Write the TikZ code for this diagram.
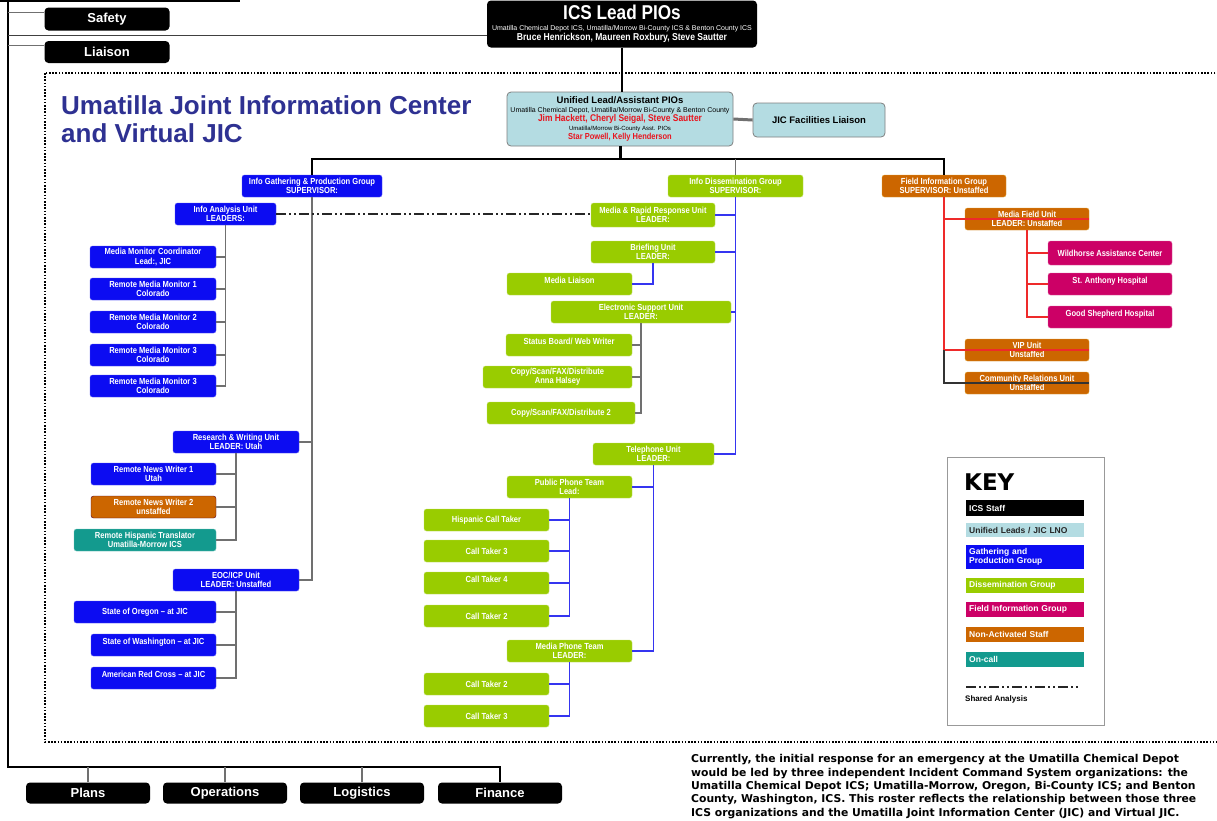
\documentclass[tikz,border=0pt]{standalone}
\usepackage{fontspec}
\setmainfont{Liberation Sans}
\newfontfamily\narrowsans[FakeStretch=0.86]{Liberation Sans}
\newfontfamily\heavysans{DejaVu Sans}
\usetikzlibrary{positioning}

\definecolor{gathblue}{HTML}{0C0CF2}
\definecolor{dissgreen}{HTML}{99CC00}
\definecolor{fieldmag}{HTML}{CC0066}
\definecolor{offorange}{HTML}{CC6600}
\definecolor{offedge}{HTML}{E0A030}
\definecolor{oncall}{HTML}{139A8E}
\definecolor{unilb}{HTML}{B4DCE2}
\definecolor{jicnavy}{HTML}{2E3192}
\definecolor{jicred}{HTML}{E8141E}
\definecolor{linegray}{HTML}{707070}
\definecolor{lineblue}{HTML}{3535F0}
\definecolor{linered}{HTML}{EE2A2A}

\newcommand{\boxfont}{\narrowsans\bfseries\fontsize{8.8}{9.2}\selectfont}
\newcommand{\keyfont}{\bfseries\fontsize{8.5}{9.5}\selectfont}

\begin{document}
\begin{tikzpicture}[
  x=1pt, y=-1pt,
  every node/.style={font=\boxfont, text=white},
  box/.style={
    rounded corners=2.5pt, align=center, inner sep=0pt,
    minimum width=125pt, minimum height=22pt
  },
  icsbox/.style={box, fill=black, rounded corners=4pt},
  unibox/.style={box, fill=unilb, draw=gray, thick, text=black},
  gathbox/.style={box, fill=gathblue, draw=gathblue!70!white},
  dissbox/.style={box, fill=dissgreen, draw=dissgreen!60!white},
  fieldbox/.style={box, fill=fieldmag, draw=fieldmag!60!white},
  offbox/.style={box, fill=offorange, draw=offedge},
  callbox/.style={box, fill=oncall, draw=oncall!60!white},
  upper/.style={text depth=8pt},
  keybox/.style={
    anchor=west, align=left, minimum width=118pt, text width=112pt,
    inner xsep=3pt, inner ysep=0pt, font=\keyfont
  },
  kline/.style={draw=black, line width=1.3pt},
  gline/.style={draw=linegray, line width=1.3pt},
  bline/.style={draw=lineblue, line width=1.3pt},
  rline/.style={draw=linered, line width=1.3pt},
  shared/.style={draw=black!85, line width=1.4pt,
    dash pattern=on 10pt off 3pt on 2pt off 3pt on 2pt off 3pt}
]
\fill[white] (0,0) rectangle (1217,820);
\useasboundingbox (0,0) rectangle (1217,820);

% ICS staff
\node[icsbox, minimum width=270, minimum height=47,
  font=\narrowsans\bfseries\fontsize{10}{10}\selectfont] (ics) at (622,24)
  {{\fontsize{20}{20}\selectfont ICS Lead PIOs}\\[0.5pt]
   {\normalfont\fontsize{7}{7}\selectfont Umatilla Chemical Depot ICS, Umatilla/Morrow Bi-County ICS \& Benton County ICS}\\
   Bruce Henrickson, Maureen Roxbury, Steve Sautter};
\node[icsbox, minimum height=23, font=\bfseries\fontsize{13}{14}\selectfont] (safety) at (107,19) {Safety};
\node[icsbox, font=\bfseries\fontsize{13}{14}\selectfont] (liaison) at (107,52) {Liaison};
\node[icsbox, minimum width=124, minimum height=21, font=\bfseries\fontsize{13}{14}\selectfont] (plans) at (88,793) {Plans};
\node[icsbox, minimum width=124, minimum height=21, font=\bfseries\fontsize{13}{14}\selectfont] (ops) at (225,793) {Operations};
\node[icsbox, minimum width=124, minimum height=21, font=\bfseries\fontsize{13}{14}\selectfont] (logi) at (362,793) {Logistics};
\node[icsbox, minimum width=124, minimum height=21, font=\bfseries\fontsize{13}{14}\selectfont] (fin) at (500,793) {Finance};

% JIC frame and title
\draw[line width=1.8pt, dash pattern=on 1.6pt off 1.6pt] (45,73) rectangle (1230,742);
\node[anchor=west, align=left, text=jicnavy, inner sep=0pt,
  font=\bfseries\fontsize{26}{28.5}\selectfont] (jictitle) at (61,119)
  {Umatilla Joint Information Center\\and Virtual JIC};

% Unified leads
\node[unibox, minimum width=226, minimum height=54, rounded corners=4pt,
  font=\fontsize{7}{8.8}\selectfont] (uni) at (620,119)
  {{\bfseries\fontsize{9.5}{9.5}\selectfont Unified Lead/Assistant PIOs}\\
   {\fontsize{7}{7}\selectfont Umatilla Chemical Depot, Umatilla/Morrow Bi-County \& Benton County}\\
   {\color{jicred}\narrowsans\bfseries\fontsize{9.8}{9.8}\selectfont Jim Hackett, Cheryl Seigal, Steve Sautter}\\
   {\fontsize{6}{6}\selectfont Umatilla/Morrow Bi-County Asst. PIOs}\\
   {\color{jicred}\narrowsans\bfseries\fontsize{8.7}{8.7}\selectfont Star Powell, Kelly Henderson}};
\node[unibox, minimum width=132, minimum height=34, rounded corners=4pt,
  font=\bfseries\fontsize{9.5}{10}\selectfont] (jicfac) at (819,120) {JIC Facilities Liaison};

% Gathering & production group
\node[gathbox, minimum width=140] (gath) at (312,186) {Info Gathering \& Production Group\\SUPERVISOR:};
\node[gathbox, minimum width=101] (ia) at (225.5,214) {Info Analysis Unit\\LEADERS:};
\node[gathbox, minimum width=126] (mmc) at (153,257) {Media Monitor Coordinator\\Lead:, JIC};
\node[gathbox, minimum width=126] (rmm1) at (153,289) {Remote Media Monitor 1\\Colorado};
\node[gathbox, minimum width=126] (rmm2) at (153,322) {Remote Media Monitor 2\\Colorado};
\node[gathbox, minimum width=126] (rmm3) at (153,355) {Remote Media Monitor 3\\Colorado};
\node[gathbox, minimum width=126] (rmm3b) at (153,386) {Remote Media Monitor 3\\Colorado};
\node[gathbox, minimum width=126] (rw) at (236,442) {Research \& Writing Unit\\LEADER: Utah};
\node[gathbox] (rnw1) at (153.5,474) {Remote News Writer 1\\Utah};
\node[offbox, draw=black!60!fieldmag] (rnw2) at (153.5,507) {Remote News Writer 2\\unstaffed};
\node[callbox, minimum width=142] (rht) at (145,540) {Remote Hispanic Translator\\Umatilla-Morrow ICS};
\node[gathbox, minimum width=126] (eoc) at (236,580) {EOC/ICP Unit\\LEADER: Unstaffed};
\node[gathbox, minimum width=142] (oregon) at (145,612) {State of Oregon – at JIC};
\node[gathbox, upper] (wash) at (153.5,645) {State of Washington – at JIC};
\node[gathbox, upper] (redcross) at (153.5,678) {American Red Cross – at JIC};

% Dissemination group
\node[dissbox, minimum width=135] (diss) at (735.5,186) {Info Dissemination Group\\SUPERVISOR:};
\node[dissbox, minimum width=124, minimum height=24] (mrr) at (653,215) {Media \& Rapid Response Unit\\LEADER:};
\node[dissbox, minimum width=124] (brief) at (653,252) {Briefing Unit\\LEADER:};
\node[dissbox, upper] (ml) at (569.5,284) {Media Liaison};
\node[dissbox, minimum width=180] (esu) at (641,312) {Electronic Support Unit\\LEADER:};
\node[dissbox, upper, minimum width=126] (sb) at (569,345) {Status Board/ Web Writer};
\node[dissbox, minimum width=149] (csf1) at (557.5,377) {Copy/Scan/FAX/Distribute\\Anna Halsey};
\node[dissbox, minimum width=148] (csf2) at (561,413) {Copy/Scan/FAX/Distribute 2};
\node[dissbox, minimum width=121] (tel) at (653.5,454) {Telephone Unit\\LEADER:};
\node[dissbox] (ppt) at (569.5,487) {Public Phone Team\\Lead:};
\node[dissbox] (hct) at (486.5,520) {Hispanic Call Taker};
\node[dissbox] (ct3) at (486.5,551) {Call Taker 3};
\node[dissbox, upper] (ct4) at (486.5,583) {Call Taker 4};
\node[dissbox] (ct2) at (486.5,616) {Call Taker 2};
\node[dissbox] (mpt) at (569.5,651) {Media Phone Team\\LEADER:};
\node[dissbox] (ct2b) at (486.5,684) {Call Taker 2};
\node[dissbox] (ct3b) at (486.5,716) {Call Taker 3};

% Field information group
\node[offbox, minimum width=124] (field) at (944,186) {Field Information Group\\SUPERVISOR: Unstaffed};
\node[offbox, minimum width=124] (mfu) at (1027,219) {Media Field Unit\\LEADER: Unstaffed};
\node[fieldbox, minimum width=124, minimum height=24] (wild) at (1110,253) {Wildhorse Assistance Center};
\node[fieldbox, upper, minimum width=124] (stanth) at (1110,284) {St. Anthony Hospital};
\node[fieldbox, upper, minimum width=124] (goods) at (1110,317) {Good Shepherd Hospital};
\node[offbox, minimum width=124] (vip) at (1027,350) {VIP Unit\\Unstaffed};
\node[offbox, minimum width=124] (comm) at (1027,383) {Community Relations Unit\\Unstaffed};

% Key
\node[draw=gray!80, line width=1pt, minimum width=157, minimum height=268, inner sep=0pt] (keyframe) at (1025.5,591) {};
\node[anchor=west, text=black, inner sep=0pt, font=\heavysans\bfseries\fontsize{23}{23}\selectfont] (keytitle) at (964,482) {KEY};
\node[keybox, fill=black, minimum height=16] (kics) at (966,508) {ICS Staff};
\node[keybox, fill=unilb, text=black!85, minimum height=14] (kuni) at (966,530) {Unified Leads / JIC LNO};
\node[keybox, fill=gathblue, minimum height=24] (kgath) at (966,557) {Gathering and\\Production Group};
\node[keybox, fill=dissgreen, minimum height=15] (kdiss) at (966,585.5) {Dissemination Group};
\node[keybox, fill=fieldmag, minimum height=15] (kfield) at (966,609.5) {Field Information Group};
\node[keybox, fill=offorange, minimum height=15] (koff) at (966,634.5) {Non-Activated Staff};
\node[keybox, fill=oncall, minimum height=15] (kcall) at (966,659.5) {On-call};
\coordinate (ksl) at (966,687);
\coordinate (ksr) at (1080,687);
\node[anchor=west, text=black, inner sep=0pt, font=\bfseries\fontsize{8}{9}\selectfont] (kshared) at (965,699) {Shared Analysis};

% Note
\node[anchor=north west, align=left, text=black, inner sep=0pt,
  font=\heavysans\bfseries\fontsize{10.8}{13.3}\selectfont] (note) at (691,754.5)
  {Currently, the initial response for an emergency at the Umatilla Chemical Depot\\
   would be led by three independent Incident Command System organizations: the\\
   Umatilla Chemical Depot ICS; Umatilla-Morrow, Oregon, Bi-County ICS; and Benton\\
   County, Washington, ICS. This roster reflects the relationship between those three\\
   ICS organizations and the Umatilla Joint Information Center (JIC) and Virtual JIC.};

% ICS lines
\coordinate (lt) at (8,0);
\coordinate (lb) at (8,767);
\coordinate (bus) at (621,159);
\draw[line width=2pt] (0,1) -- (240,1);
\draw[kline] (lt) -- (lb) -| (fin.north);
\draw[gline] (plans.north) -- (plans.north |- lb)
  (ops.north) -- (ops.north |- lb)
  (logi.north) -- (logi.north |- lb);
\draw[gline] (safety.174) -- (safety.174 -| lt)
  (liaison.174) -- (liaison.174 -| lt);
\draw[kline, draw=black!75] (ics.185) -- (ics.185 -| lt);
\draw[kline] (ics.south) -- (ics.south |- uni.north);
\draw[gline, line width=3pt] (uni.east) -- (jicfac.west);

% Group lines
\draw[kline, line width=3pt] (uni.south) -- (uni.south |- bus);
\draw[kline] (gath.north) |- (bus) -| (field.north);
\draw[gline] (diss.north) -- (diss.north |- bus);

% Gathering lines
\draw[gline] (gath.south) |- (eoc.east)
  (rw.east) -- (rw.east -| gath.south);
\draw[gline] (ia.south) |- (rmm3b.east)
  (mmc.east) -- (mmc.east -| ia.south)
  (rmm1.east) -- (rmm1.east -| ia.south)
  (rmm2.east) -- (rmm2.east -| ia.south)
  (rmm3.east) -- (rmm3.east -| ia.south);
\draw[gline] (rw.south) |- (rht.east)
  (rnw1.east) -- (rnw1.east -| rw.south)
  (rnw2.east) -- (rnw2.east -| rw.south);
\draw[gline] (eoc.south) |- (redcross.east)
  (oregon.east) -- (oregon.east -| eoc.south)
  (wash.east) -- (wash.east -| eoc.south);
\draw[shared] (ia.east) -- (ia.east -| mrr.west);
\draw[shared] (ksl) -- (ksr);

% Dissemination lines
\draw[bline] (diss.south) |- (tel.east)
  (mrr.east) -- (mrr.east -| diss.south)
  (brief.east) -- (brief.east -| diss.south)
  (esu.east) -- (esu.east -| diss.south);
\draw[bline] (brief.south) |- (ml.east);
\draw[gline] (esu.south) |- (csf2.east)
  (sb.east) -- (sb.east -| esu.south)
  (csf1.east) -- (csf1.east -| esu.south);
\draw[bline] (tel.south) |- (mpt.east)
  (ppt.east) -- (ppt.east -| tel.south);
\draw[bline] (ppt.south) |- (ct2.east)
  (hct.east) -- (hct.east -| ppt.south)
  (ct3.east) -- (ct3.east -| ppt.south)
  (ct4.east) -- (ct4.east -| ppt.south);
\draw[bline] (mpt.south) |- (ct3b.east)
  (ct2b.east) -- (ct2b.east -| mpt.south);

% Field lines
\draw[rline] (field.south) |- (vip.east)
  (mfu.east) -- (mfu.east -| field.south);
\draw[kline, draw=black!80] (vip.east -| field.south) |- (comm.east);
\draw[rline] (mfu.south) |- (goods.west)
  (wild.west) -- (wild.west -| mfu.south)
  (stanth.west) -- (stanth.west -| mfu.south);
\end{tikzpicture}
\end{document}
